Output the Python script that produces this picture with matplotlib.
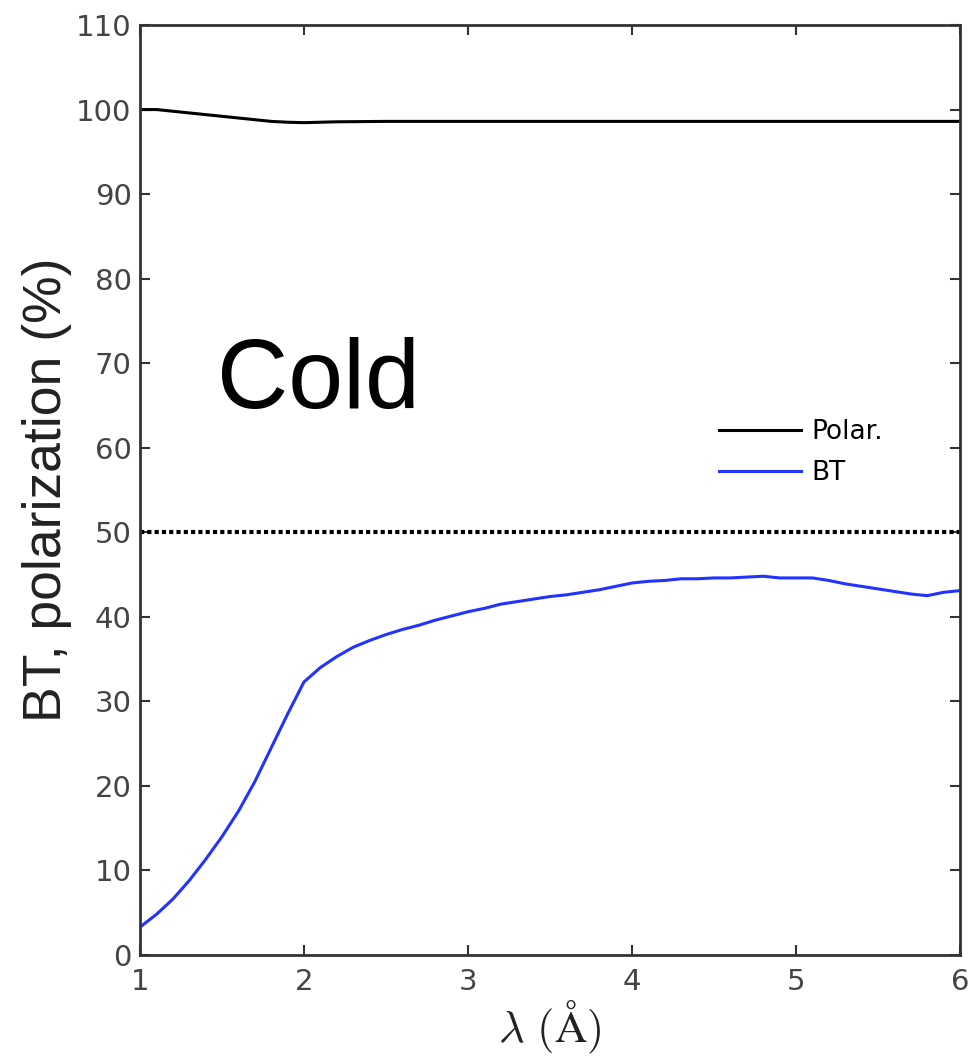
import matplotlib
matplotlib.use("Agg")
import matplotlib.pyplot as plt

# wavelength grid (Angstrom) and curves
lam = [1.0, 1.1, 1.2, 1.3, 1.4, 1.5, 1.6, 1.7, 1.8, 1.9,
       2.0, 2.1, 2.2, 2.3, 2.4, 2.5, 2.6, 2.7, 2.8, 2.9,
       3.0, 3.1, 3.2, 3.3, 3.4, 3.5, 3.6, 3.7, 3.8, 3.9,
       4.0, 4.1, 4.2, 4.3, 4.4, 4.5, 4.6, 4.7, 4.8, 4.9,
       5.0, 5.1, 5.2, 5.3, 5.4, 5.5, 5.6, 5.7, 5.8, 5.9, 6.0]
bt = [3.3, 4.8, 6.6, 8.8, 11.3, 14.0, 17.0, 20.5, 24.5, 28.5,
      32.3, 34.0, 35.3, 36.4, 37.2, 37.9, 38.5, 39.0, 39.6, 40.1,
      40.6, 41.0, 41.5, 41.8, 42.1, 42.4, 42.6, 42.9, 43.2, 43.6,
      44.0, 44.2, 44.3, 44.5, 44.5, 44.6, 44.6, 44.7, 44.8, 44.6,
      44.6, 44.6, 44.3, 43.9, 43.6, 43.3, 43.0, 42.7, 42.5, 42.9, 43.1]
polar_lam = [1.0, 1.1, 1.2, 1.3, 1.4, 1.5, 1.6, 1.7, 1.8, 1.9, 2.0, 2.2, 2.5, 3.0, 4.0, 5.0, 6.0]
polar = [100.0, 100.0, 99.8, 99.6, 99.4, 99.2, 99.0, 98.8, 98.6, 98.5, 98.45, 98.55, 98.6, 98.6, 98.6, 98.6, 98.6]
threshold = 50

xticks = [1, 2, 3, 4, 5, 6]
yticks = list(range(0, 111, 10))

plt.rcParams['mathtext.fontset'] = 'cm'

fig = plt.figure(figsize=(9.71, 10.58), dpi=100)
ax = fig.add_axes([140 / 971, 1 - 955 / 1058, 820 / 971, 930 / 1058])

ax.plot(polar_lam, polar, color='black', lw=2.2, label='Polar.')
ax.plot(lam, bt, color='#2233ff', lw=2.2, label='BT')
ax.axhline(threshold, color='black', lw=3, dashes=(1, 0.75), dash_capstyle='butt')

ax.set_xlim(1, 6)
ax.set_ylim(0, 110)
ax.set_xticks(xticks)
ax.set_yticks(yticks)

for s in ax.spines.values():
    s.set_linewidth(2)
    s.set_color('#333333')
ax.tick_params(direction='in', top=True, right=True, length=7, width=1.5,
               color='#333333', labelsize=21, labelcolor='#444444')
ax.tick_params(axis='x', pad=9)
ax.tick_params(axis='y', pad=6)

ax.set_ylabel('BT, polarization (%)', family='Liberation Sans', fontsize=38.5,
              color='#222222', labelpad=3)
ax.set_xlabel(r'$\lambda\ (\mathrm{\AA})$', fontsize=32, color='#222222', labelpad=2)

ax.text(2.085, 67.7, 'Cold', family='Liberation Sans', fontsize=71,
        ha='center', va='center', color='black')

ax.legend(loc='center left', bbox_to_anchor=(719 / 971, 0.5723),
          bbox_transform=fig.transFigure, frameon=False, fontsize=19,
          handlelength=3.1, handletextpad=0.4, labelspacing=0.55,
          borderpad=0, borderaxespad=0)

fig.savefig('out.png', dpi=100)
